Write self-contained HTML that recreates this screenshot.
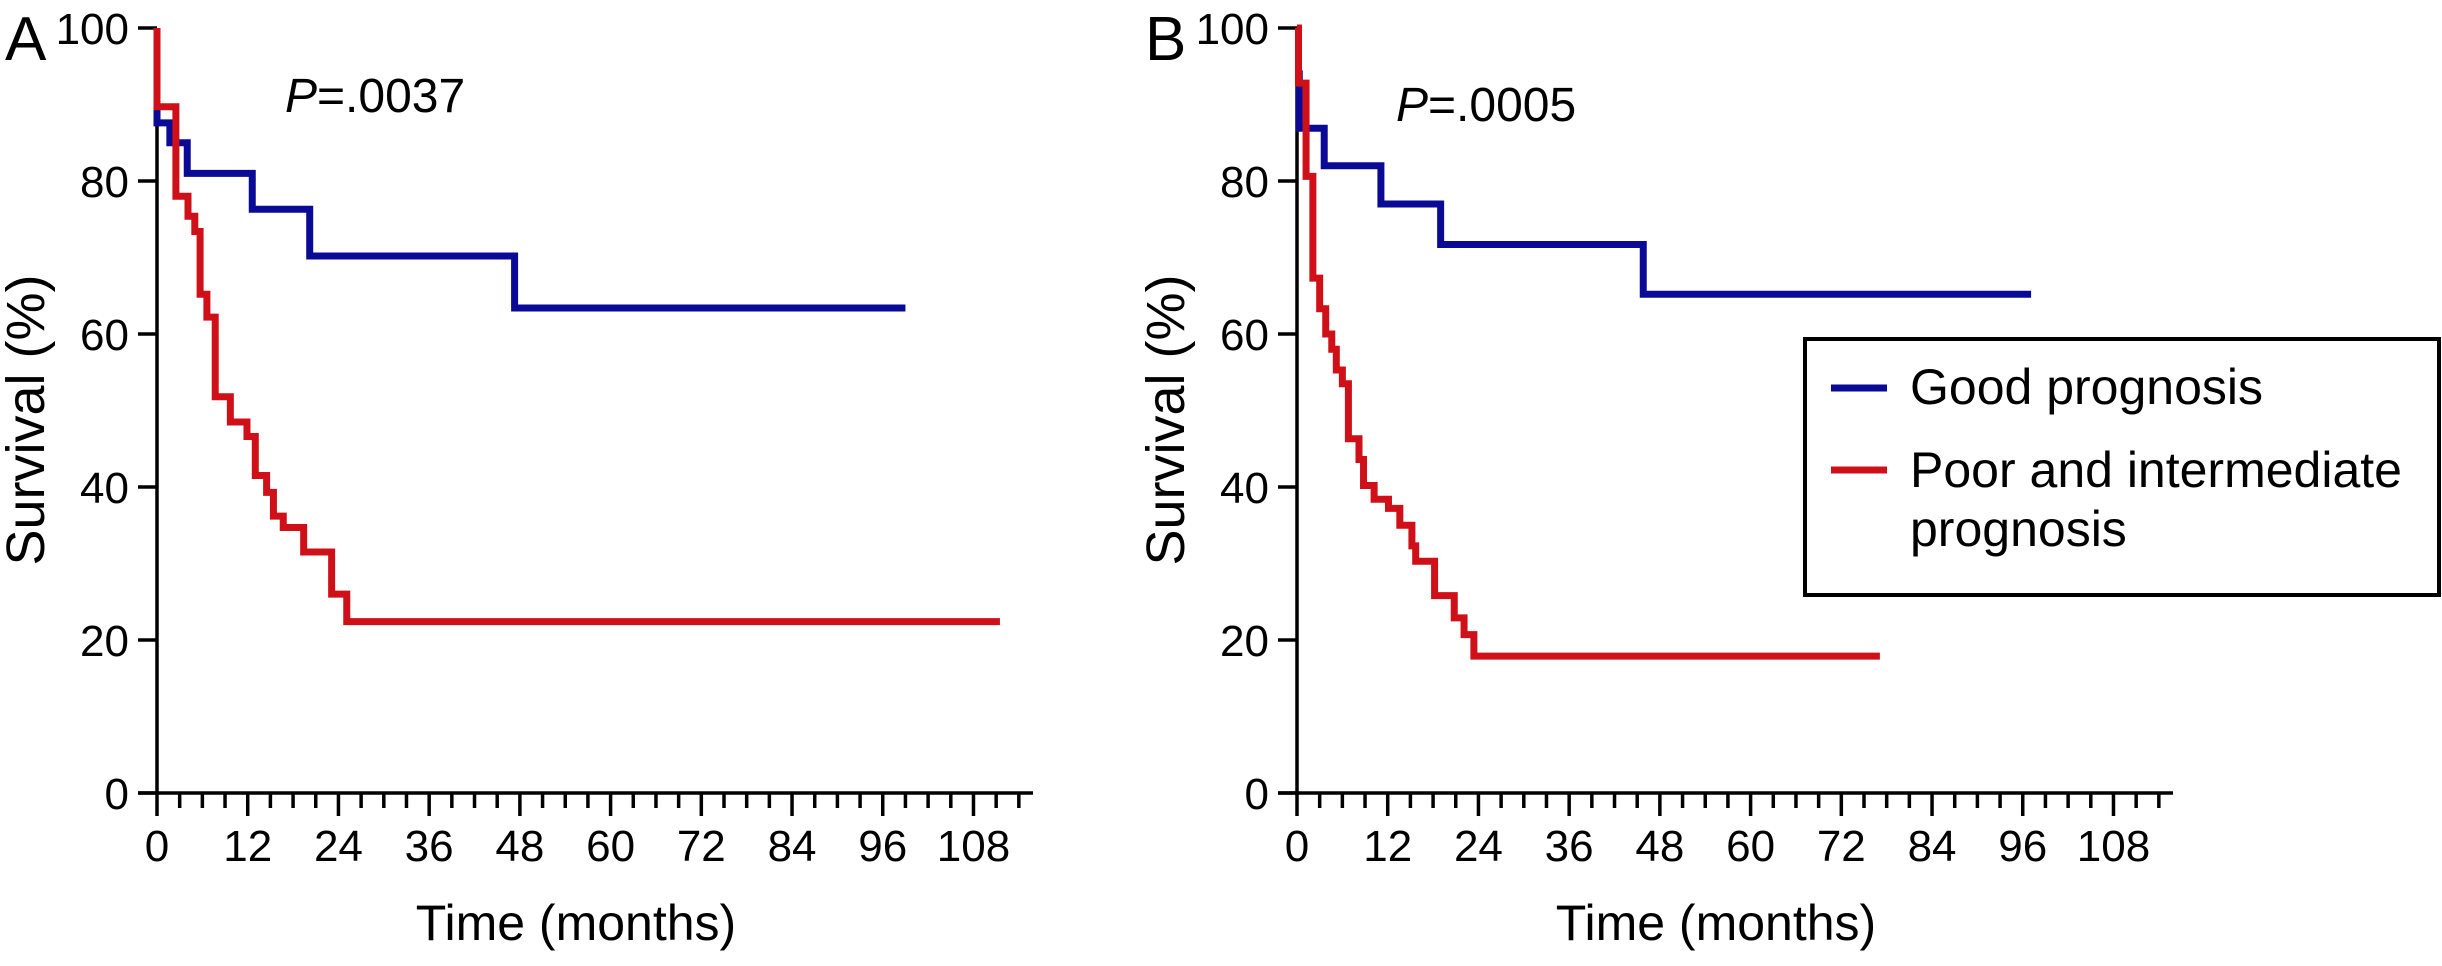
<!DOCTYPE html>
<html><head><meta charset="utf-8"><style>
html,body{margin:0;padding:0;background:#fff;}
svg{display:block;}
text{font-family:"Liberation Sans",Arial,sans-serif;fill:#000;}
</style></head>
<body>
<svg id="fig" width="2442" height="966" viewBox="0 0 2442 966" xmlns="http://www.w3.org/2000/svg">
  <g id="panelA"></g>
  <g id="panelB"></g>
  <g>
    <rect x="1805" y="339" width="634" height="256" fill="#fff" stroke="#000" stroke-width="4"/>
    <line x1="1831" y1="388" x2="1887" y2="388" stroke="#0a0a96" stroke-width="7"/>
    <text x="1910" y="404" font-size="50">Good prognosis</text>
    <line x1="1831" y1="470" x2="1887" y2="470" stroke="#cf1018" stroke-width="7"/>
    <text x="1910" y="487" font-size="50">Poor and intermediate</text>
    <text x="1910" y="546" font-size="50">prognosis</text>
  </g>
</svg>
<script>
// Panel A data
const aGoodTimes = [0, 0, 1.7, 4.0, 12.6, 20.2, 47.3];
const aGoodVals  = [100, 87.6, 85, 81, 76.3, 70.2, 63.4];
const aGoodEnd = 99;
const aPoorTimes = [0, 0, 2.5, 4.1, 5.0, 5.7, 6.6, 7.7, 9.7, 11.9, 13.0, 14.5, 15.4, 16.7, 19.4, 23.1, 25.1];
const aPoorVals  = [100, 89.7, 78, 75.4, 73.4, 65.2, 62.2, 51.8, 48.5, 46.6, 41.5, 39.3, 36.2, 34.7, 31.5, 26, 22.4];
const aPoorEnd = 111.5;
// Panel B data
const bGoodTimes = [0, 0.3, 3.6, 11.1, 19.0, 45.8];
const bGoodVals  = [94, 86.9, 82, 77, 71.7, 65.2];
const bGoodEnd = 97.1;
const bPoorTimes = [0, 0.2, 1.2, 2.1, 3.0, 3.8, 4.6, 5.2, 6.0, 6.8, 8.2, 8.8, 10.2, 12.1, 13.6, 15.2, 15.7, 18.2, 20.8, 22.1, 23.4];
const bPoorVals  = [100, 92.8, 80.6, 67.3, 63.3, 60, 58, 55.3, 53.5, 46.3, 43.6, 40.2, 38.4, 37.2, 35, 32.3, 30.3, 25.8, 22.9, 20.7, 17.9];
const bPoorEnd = 77.1;
// Axis ticks
const xTickLabels = [0, 12, 24, 36, 48, 60, 72, 84, 96, 108];
const yTickLabels = [0, 20, 40, 60, 80, 100];
const xMinorMax = 114;

const NS = "http://www.w3.org/2000/svg";
const BLUE = "#0a0a96", RED = "#cf1018";

function mk(tag, attrs, parent) {
  const e = document.createElementNS(NS, tag);
  for (const k in attrs) e.setAttribute(k, attrs[k]);
  parent.appendChild(e);
  return e;
}

function drawPanel(g, ox, letter, pText, pX, pY, series) {
  const x = m => ox + 157 + 7.56 * m;
  const y = p => 793 - 7.65 * p;
  const ya = mk("line", {x1: x(0), y1: y(100), x2: x(0), y2: y(0), stroke: "#000", "stroke-width": 3.5}, g);
  
  
  yTickLabels.forEach(v => {
    const t = mk("line", {x1: x(0) - 19, y1: y(v), x2: x(0), y2: y(v), stroke: "#000", "stroke-width": 3.5}, g);
    
    
    const l = mk("text", {x: x(0) - 28, y: y(v) + 16, "font-size": 44, "text-anchor": "end"}, g);
    l.textContent = v;
    
    
  });
  const xa = mk("line", {x1: x(0) - 19, y1: 793, x2: ox + 1033, y2: 793, stroke: "#000", "stroke-width": 3.5}, g);
  
  
  for (let m = 0; m <= xMinorMax; m += 3) {
    const major = m % 12 === 0;
    const t = mk("line", {x1: x(m), y1: 793, x2: x(m), y2: major ? 816 : 808, stroke: "#000", "stroke-width": 3.5}, g);
    
    
  }
  xTickLabels.forEach(v => {
    const l = mk("text", {x: x(v), y: 861, "font-size": 44, "text-anchor": "middle"}, g);
    l.textContent = v;
    
    
  });
  const xt = mk("text", {x: ox + 576, y: 940, "font-size": 50, "text-anchor": "middle"}, g);
  xt.textContent = "Time (months)";
  
  
  const yt = mk("text", {x: 0, y: 0, "font-size": 54, "text-anchor": "middle", transform: `translate(${ox + 44},420) rotate(-90)`}, g);
  yt.textContent = "Survival (%)";
  
  
  const pl = mk("text", {x: ox + 5, y: 60, "font-size": 62}, g);
  pl.textContent = letter;
  
  
  const pv = mk("text", {x: pX, y: pY, "font-size": 48}, g);
  const it = mk("tspan", {"font-style": "italic"}, pv);
  it.textContent = "P";
  const rest = mk("tspan", {}, pv);
  rest.textContent = pText;
  
  
  series.forEach(s => {
    let d = `M${x(s.t[0])},${y(s.v[0])}`;
    for (let i = 1; i < s.t.length; i++) d += ` H${x(s.t[i])} V${y(s.v[i])}`;
    d += ` H${x(s.end)}`;
    const p = mk("path", {d: d, fill: "none", stroke: s.c, "stroke-width": 7, "stroke-linejoin": "miter", "stroke-linecap": "butt"}, g);
    
    
  });
}

drawPanel(document.getElementById("panelA"), 0, "A", "=.0037", 285, 112, [
  {t: aGoodTimes, v: aGoodVals, end: aGoodEnd, c: BLUE, name: "good-prognosis-curve"},
  {t: aPoorTimes, v: aPoorVals, end: aPoorEnd, c: RED, name: "poor-prognosis-curve"}
]);
drawPanel(document.getElementById("panelB"), 1140, "B", "=.0005", 1396, 121, [
  {t: bGoodTimes, v: bGoodVals, end: bGoodEnd, c: BLUE, name: "good-prognosis-curve"},
  {t: bPoorTimes, v: bPoorVals, end: bPoorEnd, c: RED, name: "poor-prognosis-curve"}
]);
</script>
</body></html>
